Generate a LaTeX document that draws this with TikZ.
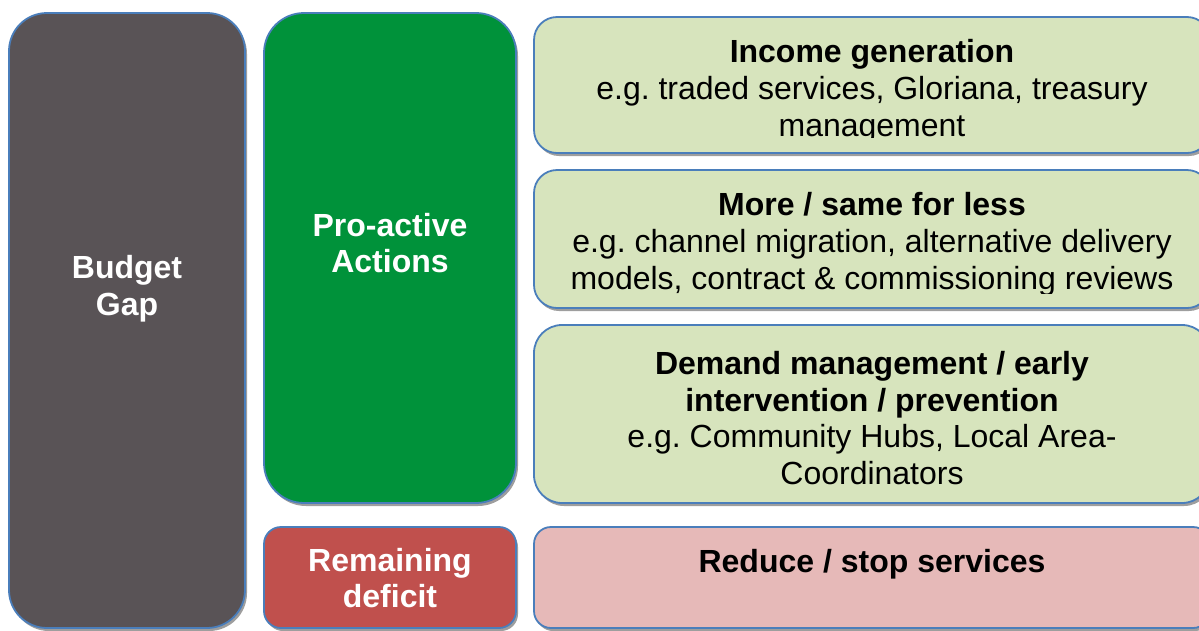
\documentclass[tikz,border=0pt]{standalone}
\usepackage{fontspec}
\setmainfont{Liberation Sans}
\usepackage{tikz}
\usepackage{xcolor}
\usetikzlibrary{shadows}
\frenchspacing
\definecolor{gapgrey}{HTML}{595356}
\definecolor{actgreen}{HTML}{00923A}
\definecolor{deficitred}{HTML}{C0504D}
\definecolor{palegreen}{HTML}{D7E4BD}
\definecolor{palered}{HTML}{E6B9B8}
\definecolor{edgeblue}{HTML}{4A7EBB}

\begin{document}
\begin{tikzpicture}[x=1pt, y=-1pt,
    box/.style={draw=edgeblue, line width=1.8pt, inner sep=0pt,
        drop shadow={shadow xshift=2pt, shadow yshift=-3pt, fill=black!38, opacity=1}},
    txt/.style={align=center, inner sep=0pt, font=\fontsize{32}{36.8}\selectfont},
    lefttxt/.style={txt, text=white, font=\fontsize{32}{36.8}\selectfont\bfseries}]
    \clip (0,0) rectangle (1199,630);
    \node[box, fill=gapgrey, rounded corners=38pt, minimum width=236pt, minimum height=615pt] (gap) at (127,320.5) {};
    \node[box, fill=actgreen, rounded corners=40pt, minimum width=252pt, minimum height=490pt] (act) at (390,258) {};
    \node[box, fill=deficitred, rounded corners=17pt, minimum width=252pt, minimum height=101pt] (deficit) at (390,577.5) {};
    \node[box, fill=palegreen, rounded corners=23pt, minimum width=676pt, minimum height=136pt] (income) at (872,85) {};
    \node[box, fill=palegreen, rounded corners=23pt, minimum width=676pt, minimum height=138pt] (more) at (872,239) {};
    \node[box, fill=palegreen, rounded corners=28pt, minimum width=676pt, minimum height=178pt] (demand) at (872,414) {};
    \node[box, fill=palered, rounded corners=17pt, minimum width=676pt, minimum height=101pt] (reduce) at (872,577.5) {};
    \node[lefttxt] (gaptxt) at (127,289) {Budget\\Gap};
    \node[lefttxt] (acttxt) at (390,243) {Pro-active\\Actions};
    \node[lefttxt] (deficittxt) at (390,578) {Remaining\\deficit};
    \begin{scope}
        \clip (534,17) rectangle (1210,137);
        \node[txt] (incometxt) at (872,91) {\textbf{Income generation}\\e.g. traded services, Gloriana, treasury\\management};
    \end{scope}
    \begin{scope}
        \clip (534,170) rectangle (1210,293);
        \node[txt] (moretxt) at (872,244) {\textbf{More / same for less}\\e.g. channel migration, alternative delivery\\models, contract \& commissioning reviews};
    \end{scope}
    \node[txt] (demandtxt) at (872,418) {\textbf{Demand management / early}\\\textbf{intervention / prevention}\\e.g. Community Hubs, Local Area-\\Coordinators};
    \node[txt] (reducetxt) at (872,564) {\textbf{Reduce / stop services}};
\end{tikzpicture}
\end{document}
